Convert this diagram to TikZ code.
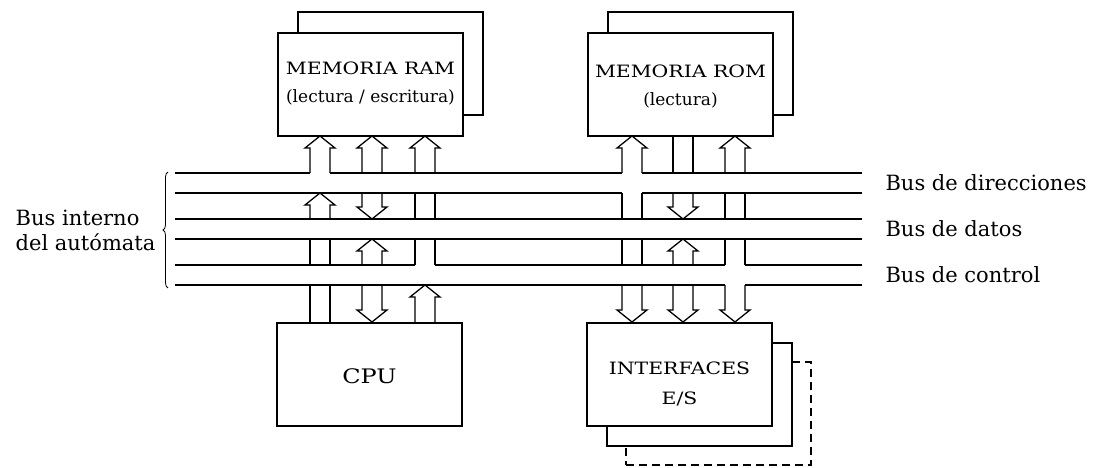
\documentclass[tikz,border=0pt]{standalone}
\usepackage{fontspec}
\setmainfont{DejaVu Serif}
\newfontfamily\widefont[FakeStretch=1.2]{DejaVu Serif}
\usepackage{tikz}
\usetikzlibrary{decorations.pathreplacing}

\tikzset{
  unitbox/.style={draw, line width=1.7pt, fill=white, minimum width=185pt,
    minimum height=103pt, align=center, inner sep=0pt},
  unittext/.style={align=center, font=\fontsize{17}{28}\selectfont},
  busline/.style={line width=1.3pt, line join=miter},
  buslabel/.style={anchor=west, font=\fontsize{21}{24}\selectfont},
}

% hollow arrows: x, y of the open end, y of the tip
\newcommand{\busup}[3]{\draw[busline] (#1-10,#2) -- (#1-10,#3+12) -- (#1-15,#3+12)
  -- (#1,#3) -- (#1+15,#3+12) -- (#1+10,#3+12) -- (#1+10,#2);}
\newcommand{\busdown}[3]{\draw[busline] (#1-10,#2) -- (#1-10,#3-12) -- (#1-15,#3-12)
  -- (#1,#3) -- (#1+15,#3-12) -- (#1+10,#3-12) -- (#1+10,#2);}
\newcommand{\busstem}[3]{\draw[busline] (#1-10,#2) -- (#1-10,#3) (#1+10,#2) -- (#1+10,#3);}

\begin{document}
\begin{tikzpicture}[x=1pt,y=-1pt]
\useasboundingbox (0,0) rectangle (1101,468);

% units
\node[unitbox] (ramback) at (390.5,63.5) {};
\node[unitbox] (ram) at (370.5,84.5) {};
\node[unittext] (ramtext) at ([yshift=1pt]ram.center)
  {{\widefont MEMORIA RAM}\\(lectura / escritura)};
\node[unitbox] (romback) at (700.5,63.5) {};
\node[unitbox] (rom) at (680.5,84.5) {};
\node[unittext] (romtext) at ([yshift=-2pt]rom.center)
  {{\widefont MEMORIA ROM}\\(lectura)};
\node[unitbox] (cpu) at (369.5,374.5) {};
\node[unittext, font=\fontsize{20}{26}\widefont] (cputext) at ([yshift=-2pt]cpu.center) {CPU};
\node[unitbox, line width=2pt, dash pattern=on 8pt off 5pt] (iosdash) at (718.5,413.5) {};
\node[unitbox] (iosback) at (699.5,394.5) {};
\node[unitbox] (ios) at (679.5,374.5) {};
\node[unittext, font=\fontsize{17}{30}\widefont] (iostext) at ([yshift=-9pt]ios.center)
  {INTERFACES\\E/S};

% buses
\draw[busline] (175,173) -- (310,173) (330,173) -- (622,173) (642,173) -- (862,173);
\draw[busline] (175,193) -- (622,193) (642,193) -- (862,193);
\draw[busline] (175,219) -- (862,219);
\draw[busline] (175,239) -- (862,239);
\draw[busline] (175,265) -- (415,265) (435,265) -- (725,265) (745,265) -- (862,265);
\draw[busline] (175,285) -- (725,285) (745,285) -- (862,285);

% RAM and CPU
\busup{320}{173}{136}
\busup{320}{219}{193}
\busstem{320}{239}{265}
\busstem{320}{285}{322}
\busup{372}{173}{136}
\busdown{372}{193}{219}
\busup{372}{265}{239}
\busdown{372}{285}{322}
\busup{425}{173}{136}
\busstem{425}{193}{219}
\busstem{425}{239}{265}
\busup{425}{322}{285}

% ROM and interfaces
\busup{632}{173}{136}
\busstem{632}{193}{219}
\busstem{632}{239}{265}
\busdown{632}{285}{322}
\busstem{683}{173}{136}
\busdown{683}{193}{219}
\busup{683}{265}{239}
\busdown{683}{285}{322}
\busup{735}{173}{136}
\busstem{735}{193}{219}
\busstem{735}{239}{265}
\busdown{735}{285}{322}

% labels
\node[buslabel] (busdir) at (882,183) {Bus de direcciones};
\node[buslabel] (busdat) at (882,229) {Bus de datos};
\node[buslabel] (busctl) at (882,275) {Bus de control};
\draw[line width=0.8pt, decorate, decoration={brace, amplitude=5pt}]
  (168,288) -- (168,172);
\node[anchor=east, align=left, font=\fontsize{21}{25}\selectfont] (businterno)
  at (159,230) {Bus interno\\del autómata};
\end{tikzpicture}
\end{document}
